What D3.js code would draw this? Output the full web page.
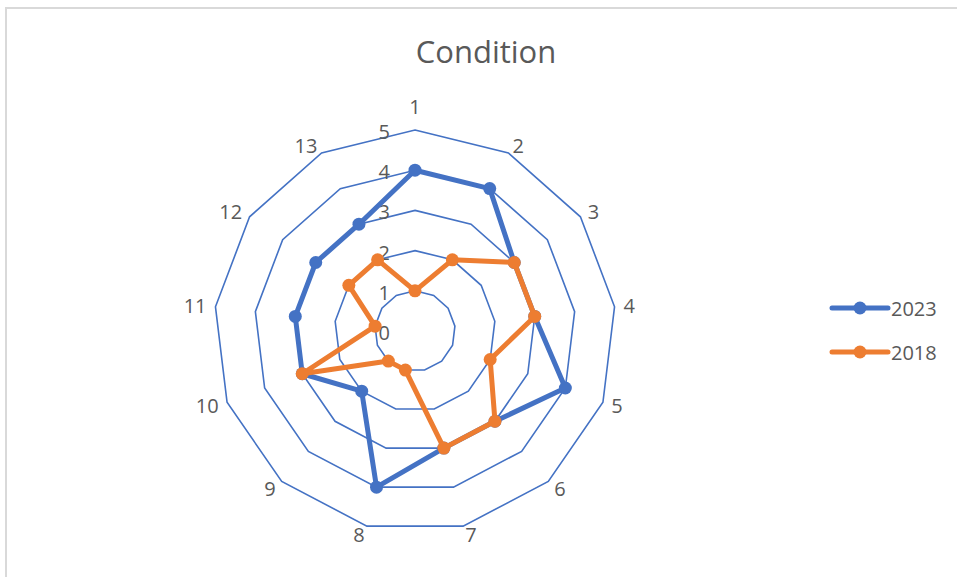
<!DOCTYPE html>
<html>
<head>
<meta charset="utf-8">
<script src="https://cdn.jsdelivr.net/npm/d3@7"></script>
<style>
  html, body { margin: 0; padding: 0; background: #fff; }
  svg { display: block; font-family: "Open Sans", "Noto Sans", sans-serif; }
</style>
</head>
<body>
<svg id="chart" width="957" height="577"></svg>
<script>
// Radar chart: condition scores per item, 2023 vs 2018
const categories = ["1", "2", "3", "4", "5", "6", "7", "8", "9", "10", "11", "12", "13"];
const values2023 = [4, 4, 3, 3, 4, 3, 3, 4, 2, 3, 3, 3, 3];
const values2018 = [1, 2, 3, 3, 2, 3, 3, 1, 1, 3, 1, 2, 2];
const seriesNames = ["2023", "2018"];
const seriesColors = ["#4472C4", "#ED7D31"];
const tickValues = [0, 1, 2, 3, 4, 5];

const svg = d3.select("#chart");
const W = 957, H = 577;
const cx = 415, cy = 331, R = 201;
const textColor = "#595959";
const gridColor = "#4472C4";

// chart area border
svg.append("rect")
  .attr("x", 6).attr("y", 8)
  .attr("width", W).attr("height", H)
  .attr("fill", "#fff")
  .attr("stroke", "#d9d9d9").attr("stroke-width", 2);

// title
svg.append("text")
  .attr("x", 486).attr("y", 63)
  .attr("text-anchor", "middle")
  .attr("font-size", 31)
  .attr("fill", textColor)
  .text("Condition");

const r = d3.scaleLinear().domain([0, 5]).range([0, R]);
const angle = d3.scalePoint().domain(categories).range([0, 2 * Math.PI * (categories.length - 1) / categories.length]);

const pt = (cat, v) => {
  const a = angle(cat);
  return [cx + r(v) * Math.sin(a), cy - r(v) * Math.cos(a)];
};

// grid polygons
const grid = svg.append("g");
tickValues.filter(t => t > 0).forEach(t => {
  grid.append("path")
    .attr("d", d3.line()(categories.map(c => pt(c, t))) + "Z")
    .attr("fill", "none")
    .attr("stroke", gridColor)
    .attr("stroke-width", 1.6);
});

// value axis labels
svg.append("g").selectAll("text")
  .data(tickValues)
  .join("text")
  .attr("x", cx - 25)
  .attr("y", d => cy - r(d) + 1.5)
  .attr("text-anchor", "end")
  .attr("dominant-baseline", "central")
  .attr("font-size", 20)
  .attr("fill", textColor)
  .text(d => d);

// category labels
svg.append("g").selectAll("text")
  .data(categories)
  .join("text")
  .each(function(c) {
    const a = angle(c);
    const s = Math.sin(a), co = Math.cos(a);
    const [vx, vy] = pt(c, 5);
    const sel = d3.select(this);
    if (Math.abs(s) < 0.1) {
      sel.attr("x", vx).attr("y", vy - 24).attr("text-anchor", "middle");
    } else {
      sel.attr("x", vx + 9 * s).attr("y", vy - 9 * co)
        .attr("text-anchor", s > 0 ? "start" : "end");
    }
  })
  .attr("dominant-baseline", "central")
  .attr("font-size", 20)
  .attr("fill", textColor)
  .text(d => d);

// series
const allSeries = [values2023, values2018];
allSeries.forEach((vals, i) => {
  const pts = categories.map((c, j) => pt(c, vals[j]));
  const g = svg.append("g");
  g.append("path")
    .attr("d", d3.line()(pts) + "Z")
    .attr("fill", "none")
    .attr("stroke", seriesColors[i])
    .attr("stroke-width", 5)
    .attr("stroke-linejoin", "round");
  g.selectAll("circle")
    .data(pts)
    .join("circle")
    .attr("cx", d => d[0]).attr("cy", d => d[1])
    .attr("r", 6.5)
    .attr("fill", seriesColors[i]);
});

// legend
const legend = svg.append("g");
seriesNames.forEach((name, i) => {
  const y = 308 + i * 44;
  legend.append("line")
    .attr("x1", 832).attr("x2", 888)
    .attr("y1", y).attr("y2", y)
    .attr("stroke", seriesColors[i])
    .attr("stroke-width", 5)
    .attr("stroke-linecap", "round");
  legend.append("circle")
    .attr("cx", 860).attr("cy", y).attr("r", 6.5)
    .attr("fill", seriesColors[i]);
  legend.append("text")
    .attr("x", 891).attr("y", y)
    .attr("dominant-baseline", "central")
    .attr("font-size", 20)
    .attr("fill", textColor)
    .text(name);
});
</script>
</body>
</html>
